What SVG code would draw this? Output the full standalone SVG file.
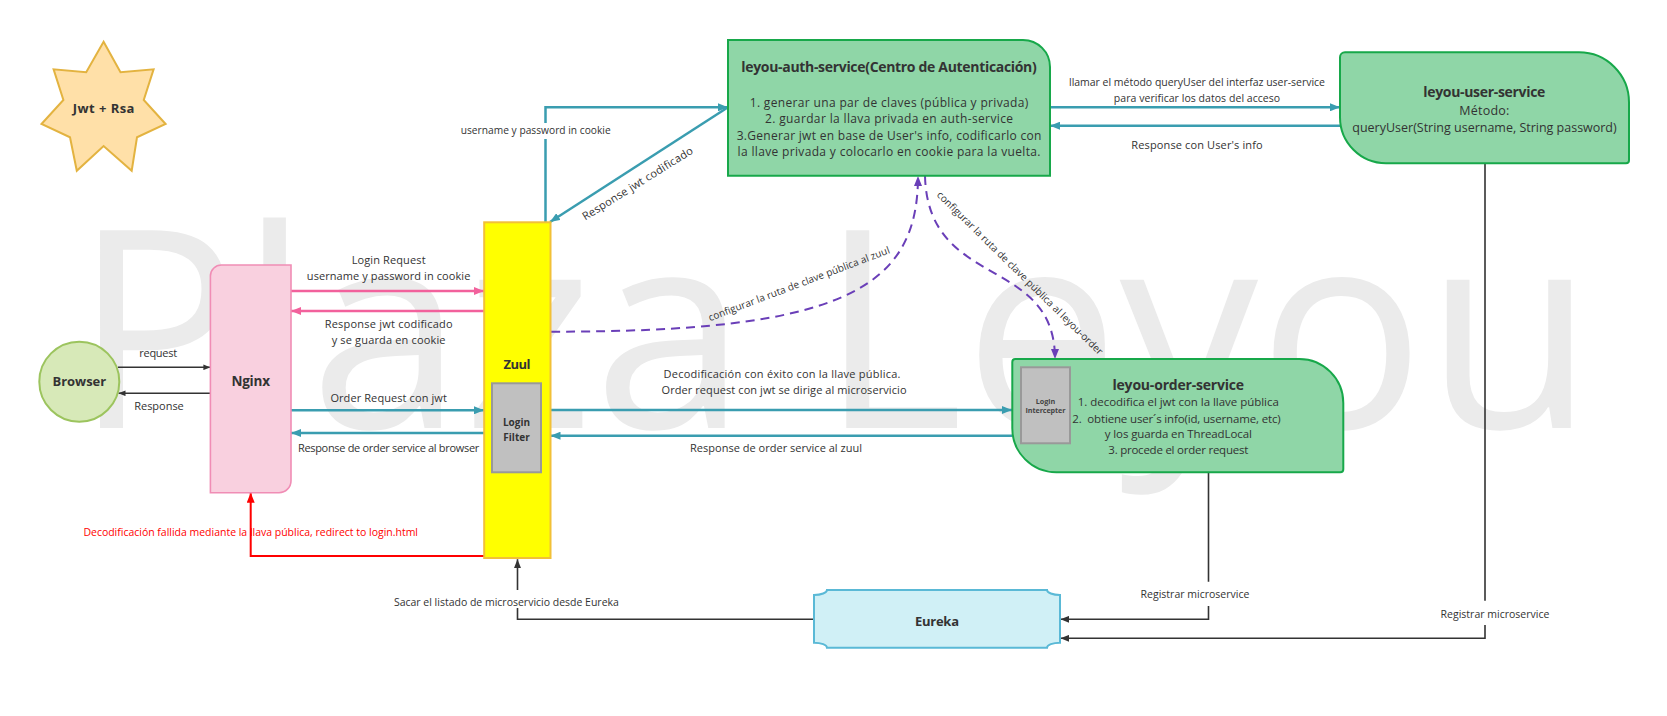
<svg xmlns="http://www.w3.org/2000/svg" width="1667" height="716" viewBox="0 0 1667 716">
<style>
text{font-family:"Open Sans","Liberation Sans",sans-serif;fill:#333}
.c{text-anchor:middle}
.b{font-weight:bold}
.s10{font-size:10px}.s105{font-size:10.5px}.s11{font-size:11px}.s115{font-size:11.5px}.s12{font-size:12px}.s125{font-size:12.5px}.s13{font-size:13px}.s14{font-size:14px}
.teal{stroke:#3a9db0;stroke-width:2.5;fill:none}
.pink{stroke:#f2619c;stroke-width:2.5;fill:none}
.purple{stroke:#6a3fb8;stroke-width:2;fill:none;stroke-dasharray:9 6}
.red{stroke:#ff0000;stroke-width:2;fill:none}
.dark{stroke:#333;stroke-width:1.6;fill:none}
.green{fill:#8fd6a7;stroke:#17a84a;stroke-width:2}
.gray{fill:#c0c0c0;stroke:#999;stroke-width:2}
</style>
<defs>
<marker id="mTeal" viewBox="0 0 10 8" refX="10" refY="4" markerWidth="10" markerHeight="8" markerUnits="userSpaceOnUse" orient="auto"><path d="M0,0 L10,4 L0,8 z" fill="#3a9db0"/></marker>
<marker id="mPink" viewBox="0 0 10 8" refX="10" refY="4" markerWidth="10" markerHeight="8" markerUnits="userSpaceOnUse" orient="auto"><path d="M0,0 L10,4 L0,8 z" fill="#f2619c"/></marker>
<marker id="mPurple" viewBox="0 0 10 8" refX="10" refY="4" markerWidth="10" markerHeight="8" markerUnits="userSpaceOnUse" orient="auto"><path d="M0,0 L10,4 L0,8 z" fill="#6a3fb8"/></marker>
<marker id="mRed" viewBox="0 0 10 8" refX="10" refY="4" markerWidth="10" markerHeight="8" markerUnits="userSpaceOnUse" orient="auto"><path d="M0,0 L10,4 L0,8 z" fill="#ff0000"/></marker>
<marker id="mDark" viewBox="0 0 10 8" refX="10" refY="4" markerWidth="9" markerHeight="7" markerUnits="userSpaceOnUse" orient="auto"><path d="M0,0 L10,4 L0,8 z" fill="#333"/></marker>
<marker id="mDarkS" viewBox="0 0 10 8" refX="10" refY="4" markerWidth="7" markerHeight="6" markerUnits="userSpaceOnUse" orient="auto"><path d="M0,0 L10,4 L0,8 z" fill="#333"/></marker>
</defs>
<rect width="1667" height="716" fill="#ffffff"/>
<text x="73" y="428" style="font-size:277px;fill:#ebebeb">Plaza Leyou</text>

<g id="connectors">
<path class="dark" d="M118,367.3 H210.4" marker-end="url(#mDarkS)"/>
<path class="dark" d="M210.4,393.3 H118.5" marker-end="url(#mDarkS)"/>
<text class="c s11" x="158.2" y="357.3" textLength="38" >request</text>
<text class="c s11" x="159" y="410" textLength="49.6">Response</text>

<path class="pink" d="M291,291 H484" marker-end="url(#mPink)"/>
<path class="pink" d="M484,311 H291" marker-end="url(#mPink)"/>
<text class="c s11" x="388.6" y="264" textLength="73.9">Login Request</text>
<text class="c s11" x="388.6" y="280" textLength="163.6">username y password in cookie</text>
<text class="c s11" x="388.6" y="328" textLength="127.9">Response jwt codificado</text>
<text class="c s11" x="388.6" y="344" textLength="113.9">y se guarda en cookie</text>

<path class="teal" d="M291,410.3 H484" marker-end="url(#mTeal)"/>
<path class="teal" d="M484,433 H291" marker-end="url(#mTeal)"/>
<text class="c s11" x="388.6" y="401.7" textLength="116.4">Order Request con jwt</text>
<text class="c s11" x="388.6" y="452.3" textLength="181.4">Response de order service al browser</text>

<path class="teal" d="M550.5,410 H1012" marker-end="url(#mTeal)"/>
<path class="teal" d="M1012,435.7 H550.5" marker-end="url(#mTeal)"/>
<text class="c s11" x="782" y="377.7" textLength="237">Decodificación con éxito con la llave pública.</text>
<text class="c s11" x="784" y="394" textLength="245">Order request con jwt se dirige al microservicio</text>
<text class="c s11" x="776" y="451.7" textLength="172">Response de order service al zuul</text>

<path class="teal" d="M545.5,222.3 V139 M545.5,123 V107.3 H728" marker-end="url(#mTeal)"/>
<text class="c" style="font-size:10.2px" x="535.7" y="134.3" textLength="150">username y password in cookie</text>
<path class="teal" d="M728,107.3 L550,222" marker-end="url(#mTeal)"/>
<text class="c s11" transform="translate(637.5,183.3) rotate(-32)" x="0" y="4" textLength="128">Response jwt codificado</text>

<path class="teal" d="M1050,107.3 H1340" marker-end="url(#mTeal)"/>
<path class="teal" d="M1340,125.7 H1050" marker-end="url(#mTeal)"/>
<text class="c s105" x="1197" y="86" textLength="256">llamar el método queryUser del interfaz user-service</text>
<text class="c s105" x="1197" y="102" textLength="166.4">para verificar los datos del acceso</text>
<text class="c s11" x="1197" y="149.3" textLength="131.4">Response con User's info</text>

<path class="purple" d="M551,331.7 C840,332 918,290 918,176" marker-end="url(#mPurple)"/>
<text class="c s10" transform="translate(799,283.8) rotate(-20.7)" x="0" y="3.5" textLength="193">configurar la ruta de clave pública al zuul</text>
<path class="purple" d="M925,176 C928,290 1055,255 1055,359" marker-end="url(#mPurple)"/>
<text class="c s10" transform="translate(1020,273) rotate(44.5)" x="0" y="3.5" textLength="228">configurar la ruta de clave pública al leyou-order</text>

<path class="red" d="M484,556 H250.7 V492.7" marker-end="url(#mRed)"/>
<text class="c s105" style="fill:#ff0000" x="250.7" y="536.2" textLength="334.6">Decodificación fallida mediante la llava pública, redirect to login.html</text>

<path class="dark" d="M814,619.3 H517.5 V608 M517.5,590 V559.3" marker-end="url(#mDark)"/>
<text class="c s105" x="506.4" y="605.5" textLength="225">Sacar el listado de microservicio desde Eureka</text>
<path class="dark" d="M1208.5,472.3 V581.7 M1208.5,606 V619.3 H1060.5" marker-end="url(#mDark)"/>
<text class="c s105" x="1195" y="598.3" textLength="108.8">Registrar microservice</text>
<path class="dark" d="M1485,163.3 V600.7 M1485,625 V638.3 H1060.5" marker-end="url(#mDark)"/>
<text class="c s105" x="1495" y="617.5" textLength="108.8">Registrar microservice</text>
</g>

<g id="node-star">
<polygon points="103.6,41.7 120.5,72.3 153.6,69.3 143.75,100 165.6,124 137,137.3 131.7,170.7 103.6,146 76.8,170.7 70,137.3 41.5,124 63.4,100 53.6,69.3 86.2,72.3" fill="#ffe0a8" stroke="#e3b340" stroke-width="2"/>
<text class="c b s13" x="103.6" y="112.7" textLength="61.6">Jwt + Rsa</text>
</g>

<g id="node-browser">
<circle cx="79.3" cy="381.7" r="40" fill="#d7e9b8" stroke="#9cc45e" stroke-width="2"/>
<text class="c b s13" x="79.3" y="386.4" textLength="53.6">Browser</text>
</g>

<g id="node-nginx">
<path d="M221.4,265 H291 V480.7 A12,12 0 0 1 279,492.7 H210.4 V276 A11,11 0 0 1 221.4,265 Z" fill="#f9d0df" stroke="#f08db5" stroke-width="1.6"/>
<text class="c b" style="font-size:13.5px" x="250.7" y="385.6" textLength="38.6">Nginx</text>
</g>

<g id="node-zuul">
<rect x="484.2" y="222.3" width="66.3" height="335.7" fill="#ffff00" stroke="#f2c037" stroke-width="2"/>
<text class="c b s13" x="517" y="369" textLength="27">Zuul</text>
<rect class="gray" x="492" y="383.3" width="49" height="89"/>
<text class="c b s10" x="516.5" y="426.3">Login</text>
<text class="c b s10" x="516.5" y="440.9">Filter</text>
</g>

<g id="node-auth">
<path class="green" d="M728,40 H1023 A27,27 0 0 1 1050,67 V175.7 H728 Z"/>
<text class="c b s14" x="889" y="71.7" textLength="295.5">leyou-auth-service(Centro de Autenticación)</text>
<text class="c s12" x="889" y="106.6" textLength="278.6">1. generar una par de claves (pública y privada)</text>
<text class="c s12" x="889" y="123" textLength="248">2. guardar la llava privada en auth-service</text>
<text class="c s12" x="889" y="139.6" textLength="304.6">3.Generar jwt en base de User's info, codificarlo con</text>
<text class="c s12" x="889" y="156.3" textLength="302.9">la llave privada y colocarlo en cookie para la vuelta.</text>
</g>

<g id="node-user">
<path class="green" d="M1345,52.3 H1579 A50,50 0 0 1 1629,102.3 V160.3 A3,3 0 0 1 1626,163.3 H1386 A46,46 0 0 1 1340,117.3 V57.3 A5,5 0 0 1 1345,52.3 Z"/>
<text class="c b s14" x="1484.3" y="97.3" textLength="122">leyou-user-service</text>
<text class="c s125" x="1484.3" y="114.5" textLength="50">Método:</text>
<text class="c s125" x="1484.5" y="131.8" textLength="264.4">queryUser(String username, String password)</text>
</g>

<g id="node-order">
<path class="green" d="M1015.3,359 H1299.3 A44,44 0 0 1 1343.3,403 V469.3 A3,3 0 0 1 1340.3,472.3 H1056.3 A44,44 0 0 1 1012.3,428.3 V362 A3,3 0 0 1 1015.3,359 Z"/>
<rect class="gray" x="1021" y="367.3" width="49" height="76"/>
<text class="c b" style="font-size:7.2px;fill:#444" x="1045.5" y="403.9">Login</text>
<text class="c b" style="font-size:7.2px;fill:#444" x="1045.5" y="413.3" textLength="40">Intercepter</text>
<text class="c b s14" x="1178.3" y="390" textLength="131.7">leyou-order-service</text>
<text class="c s115" x="1178.3" y="406" textLength="201">1. decodifica el jwt con la llave pública</text>
<text class="c s115" xml:space="preserve" x="1176.5" y="422.6" textLength="208.3">2.  obtiene user´s info(id, username, etc)</text>
<text class="c s115" x="1178.3" y="438.2" textLength="147">y los guarda en ThreadLocal</text>
<text class="c s115" x="1178.3" y="454.2" textLength="140">3. procede el order request</text>
</g>

<g id="node-eureka">
<path d="M827,590 H1047 A13,5 0 0 0 1060,595 V642.7 A13,5 0 0 0 1047,647.7 H827 A13,5 0 0 0 814,642.7 V595 A13,5 0 0 0 827,590 Z" fill="#d0f0f6" stroke="#5ab9d6" stroke-width="2"/>
<text class="c b s13" x="937" y="625.5" textLength="44">Eureka</text>
</g>
</svg>
